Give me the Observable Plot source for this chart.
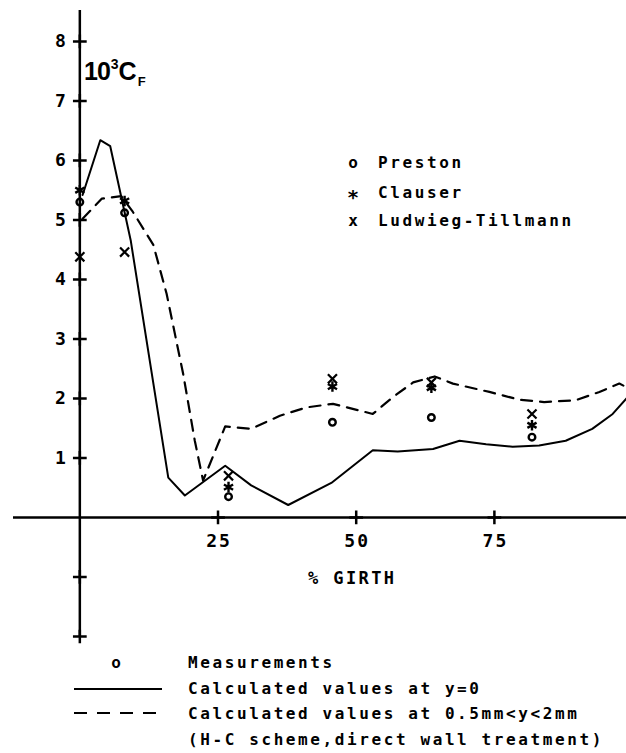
<!DOCTYPE html>
<html><head><meta charset="utf-8">
<script src="https://cdn.jsdelivr.net/npm/d3@7"></script>
<script src="https://cdn.jsdelivr.net/npm/@observablehq/plot@0.6"></script>
<style>
body{margin:0;background:#fff;}
#wrap{position:relative;width:626px;height:753px;overflow:hidden;font-family:"DejaVu Sans Mono",monospace;font-weight:bold;color:#000;}
#chart{position:absolute;left:0;top:0;}
.lbl{position:absolute;white-space:nowrap;font-size:16px;letter-spacing:2.6px;line-height:20px;transform:translateY(-50%);}
.sym{position:absolute;font-size:16px;line-height:20px;transform:translate(-50%,-50%);}
.sym.big{font-size:20px;}
#cf{position:absolute;left:84px;top:59px;font-family:"Liberation Sans",Arial,sans-serif;font-weight:bold;font-size:25px;line-height:25px;letter-spacing:-1px;white-space:nowrap;}
#cf .sp{position:relative;font-size:14px;top:-11px;margin-left:1px;margin-right:1px;}
#cf .sb{position:relative;font-size:13px;top:6px;margin-left:2px;}
</style></head><body>
<div id="wrap">
<div id="chart"></div>
<div id="cf">10<span class="sp">3</span>C<span class="sb">F</span></div>
<div class="sym" style="left:353px;top:163px">o</div><div class="lbl" style="left:378px;top:163px" id="leg0"></div>
<div class="sym big" style="left:353px;top:197px">*</div><div class="lbl" style="left:378px;top:193px" id="leg1"></div>
<div class="sym" style="left:353px;top:221px">x</div><div class="lbl" style="left:378px;top:221px" id="leg2"></div>
<div class="lbl" style="left:308px;top:578px;letter-spacing:2.4px;font-size:17px" id="xlabel"></div>
<div class="sym" style="left:116px;top:663px">o</div><div class="lbl" style="left:188px;top:663px" id="bl0"></div>
<svg style="position:absolute;left:0;top:680px" width="170" height="40">
  <line x1="74" x2="162" y1="9" y2="9" stroke="#000" stroke-width="2"/>
  <line x1="74" x2="165" y1="33" y2="33" stroke="#000" stroke-width="2" stroke-dasharray="13,10"/>
</svg>
<div class="lbl" style="left:188px;top:689px" id="bl1"></div>
<div class="lbl" style="left:188px;top:714px" id="bl2"></div>
<div class="lbl" style="left:188px;top:740px" id="bl3"></div>
</div>
<script>
// ---- data ----
const xTicks = [25, 50, 75];
const yTickValues = [-2, -1, 1, 2, 3, 4, 5, 6, 7, 8];
const yTickLabels = [1, 2, 3, 4, 5, 6, 7, 8];
const xLabel = "% GIRTH";
const seriesNames = ["Preston", "Clauser", "Ludwieg-Tillmann"];
const legendLines = ["Measurements", "Calculated values at y=0", "Calculated values at 0.5mm<y<2mm", "(H-C scheme,direct wall treatment)"];

const solidX = [0.5, 3.7, 5.5, 9.2, 16, 19, 26.3, 31, 37.7, 45.5, 53, 57.5, 63.9, 68.7, 73.5, 78.3, 83.1, 87.9, 92.7, 96.4, 98.9];
const solidY = [5.42, 6.34, 6.24, 4.66, 0.67, 0.37, 0.87, 0.54, 0.21, 0.58, 1.13, 1.11, 1.15, 1.29, 1.23, 1.19, 1.21, 1.29, 1.49, 1.74, 2.0];

const dashX = [0.5, 4, 7.5, 9.5, 13.3, 15.7, 18.7, 20.8, 22.3, 26.3, 31, 36.2, 41, 45.8, 53, 56.6, 60.3, 64.2, 67.5, 74.1, 79.5, 84, 89.7, 94, 97.6, 98.9];
const dashY = [5.02, 5.36, 5.40, 5.15, 4.58, 3.76, 2.41, 1.29, 0.62, 1.53, 1.49, 1.71, 1.85, 1.91, 1.74, 2.02, 2.27, 2.37, 2.25, 2.11, 1.98, 1.94, 1.97, 2.11, 2.25, 2.19];

const measX = [0, 8.1, 26.9, 45.7, 63.6, 81.8];
const prestonY = [5.3, 5.12, 0.35, 1.6, 1.68, 1.35];
const clauserY = [5.5, 5.32, 0.51, 2.2, 2.18, 1.55];
const ludwiegY = [4.38, 4.46, 0.7, 2.33, 2.27, 1.74];

// ---- build ----
const solid = solidX.map((x, i) => ({x, y: solidY[i]}));
const dashed = dashX.map((x, i) => ({x, y: dashY[i]}));
const preston = measX.map((x, i) => ({x, y: prestonY[i]}));
const clauser = measX.map((x, i) => ({x, y: clauserY[i]}));
const ludwieg = measX.map((x, i) => ({x, y: ludwiegY[i]}));

const chart = Plot.plot({
  width: 626,
  height: 650,
  marginLeft: 13,
  marginRight: 0,
  marginTop: 10,
  marginBottom: 14,
  x: {domain: [-12, 98.9], axis: null},
  y: {domain: [-2, 8.52], axis: null},
  style: {fontFamily: "DejaVu Sans Mono", fontWeight: "bold", letterSpacing: "2px", color: "#000", background: "transparent"},
  marks: [
    Plot.ruleY([0], {stroke: "#000", strokeWidth: 2.5}),
    Plot.ruleX([0], {stroke: "#000", strokeWidth: 2.5}),
    // tick marks crossing the axes (plus-shaped symbols centred on the axis lines)
    Plot.dot(yTickValues, {x: 0, y: d => d, symbol: "plus", r: 4.5, stroke: "#000", strokeWidth: 2.5}),
    Plot.dot(xTicks, {x: d => d, y: 0, symbol: "plus", r: 4.5, stroke: "#000", strokeWidth: 2.5}),
    Plot.text(yTickLabels, {x: 0, y: d => d, text: d => String(d), textAnchor: "end", dx: -12, fontSize: 18, fontWeight: "bold"}),
    Plot.text(xTicks, {x: d => d, y: 0, text: d => String(d), dy: 24, dx: 1, fontSize: 18, fontWeight: "bold"}),
    Plot.line(solid, {x: "x", y: "y", stroke: "#000", strokeWidth: 2}),
    Plot.line(dashed, {x: "x", y: "y", stroke: "#000", strokeWidth: 2.2, strokeDasharray: "11,8"}),
    Plot.dot(preston, {x: "x", y: "y", r: 3.3, stroke: "#000", strokeWidth: 2.4, fill: "none"}),
    Plot.dot(clauser, {x: "x", y: "y", symbol: "asterisk", r: 5, stroke: "#000", strokeWidth: 2.4}),
    Plot.dot(ludwieg, {x: "x", y: "y", symbol: "times", r: 4.2, stroke: "#000", strokeWidth: 2.2})
  ]
});
document.getElementById("chart").appendChild(chart);
seriesNames.forEach((n, i) => document.getElementById("leg" + i).textContent = n);
legendLines.forEach((n, i) => document.getElementById("bl" + i).textContent = n);
document.getElementById("xlabel").textContent = xLabel;
</script>
</body></html>
